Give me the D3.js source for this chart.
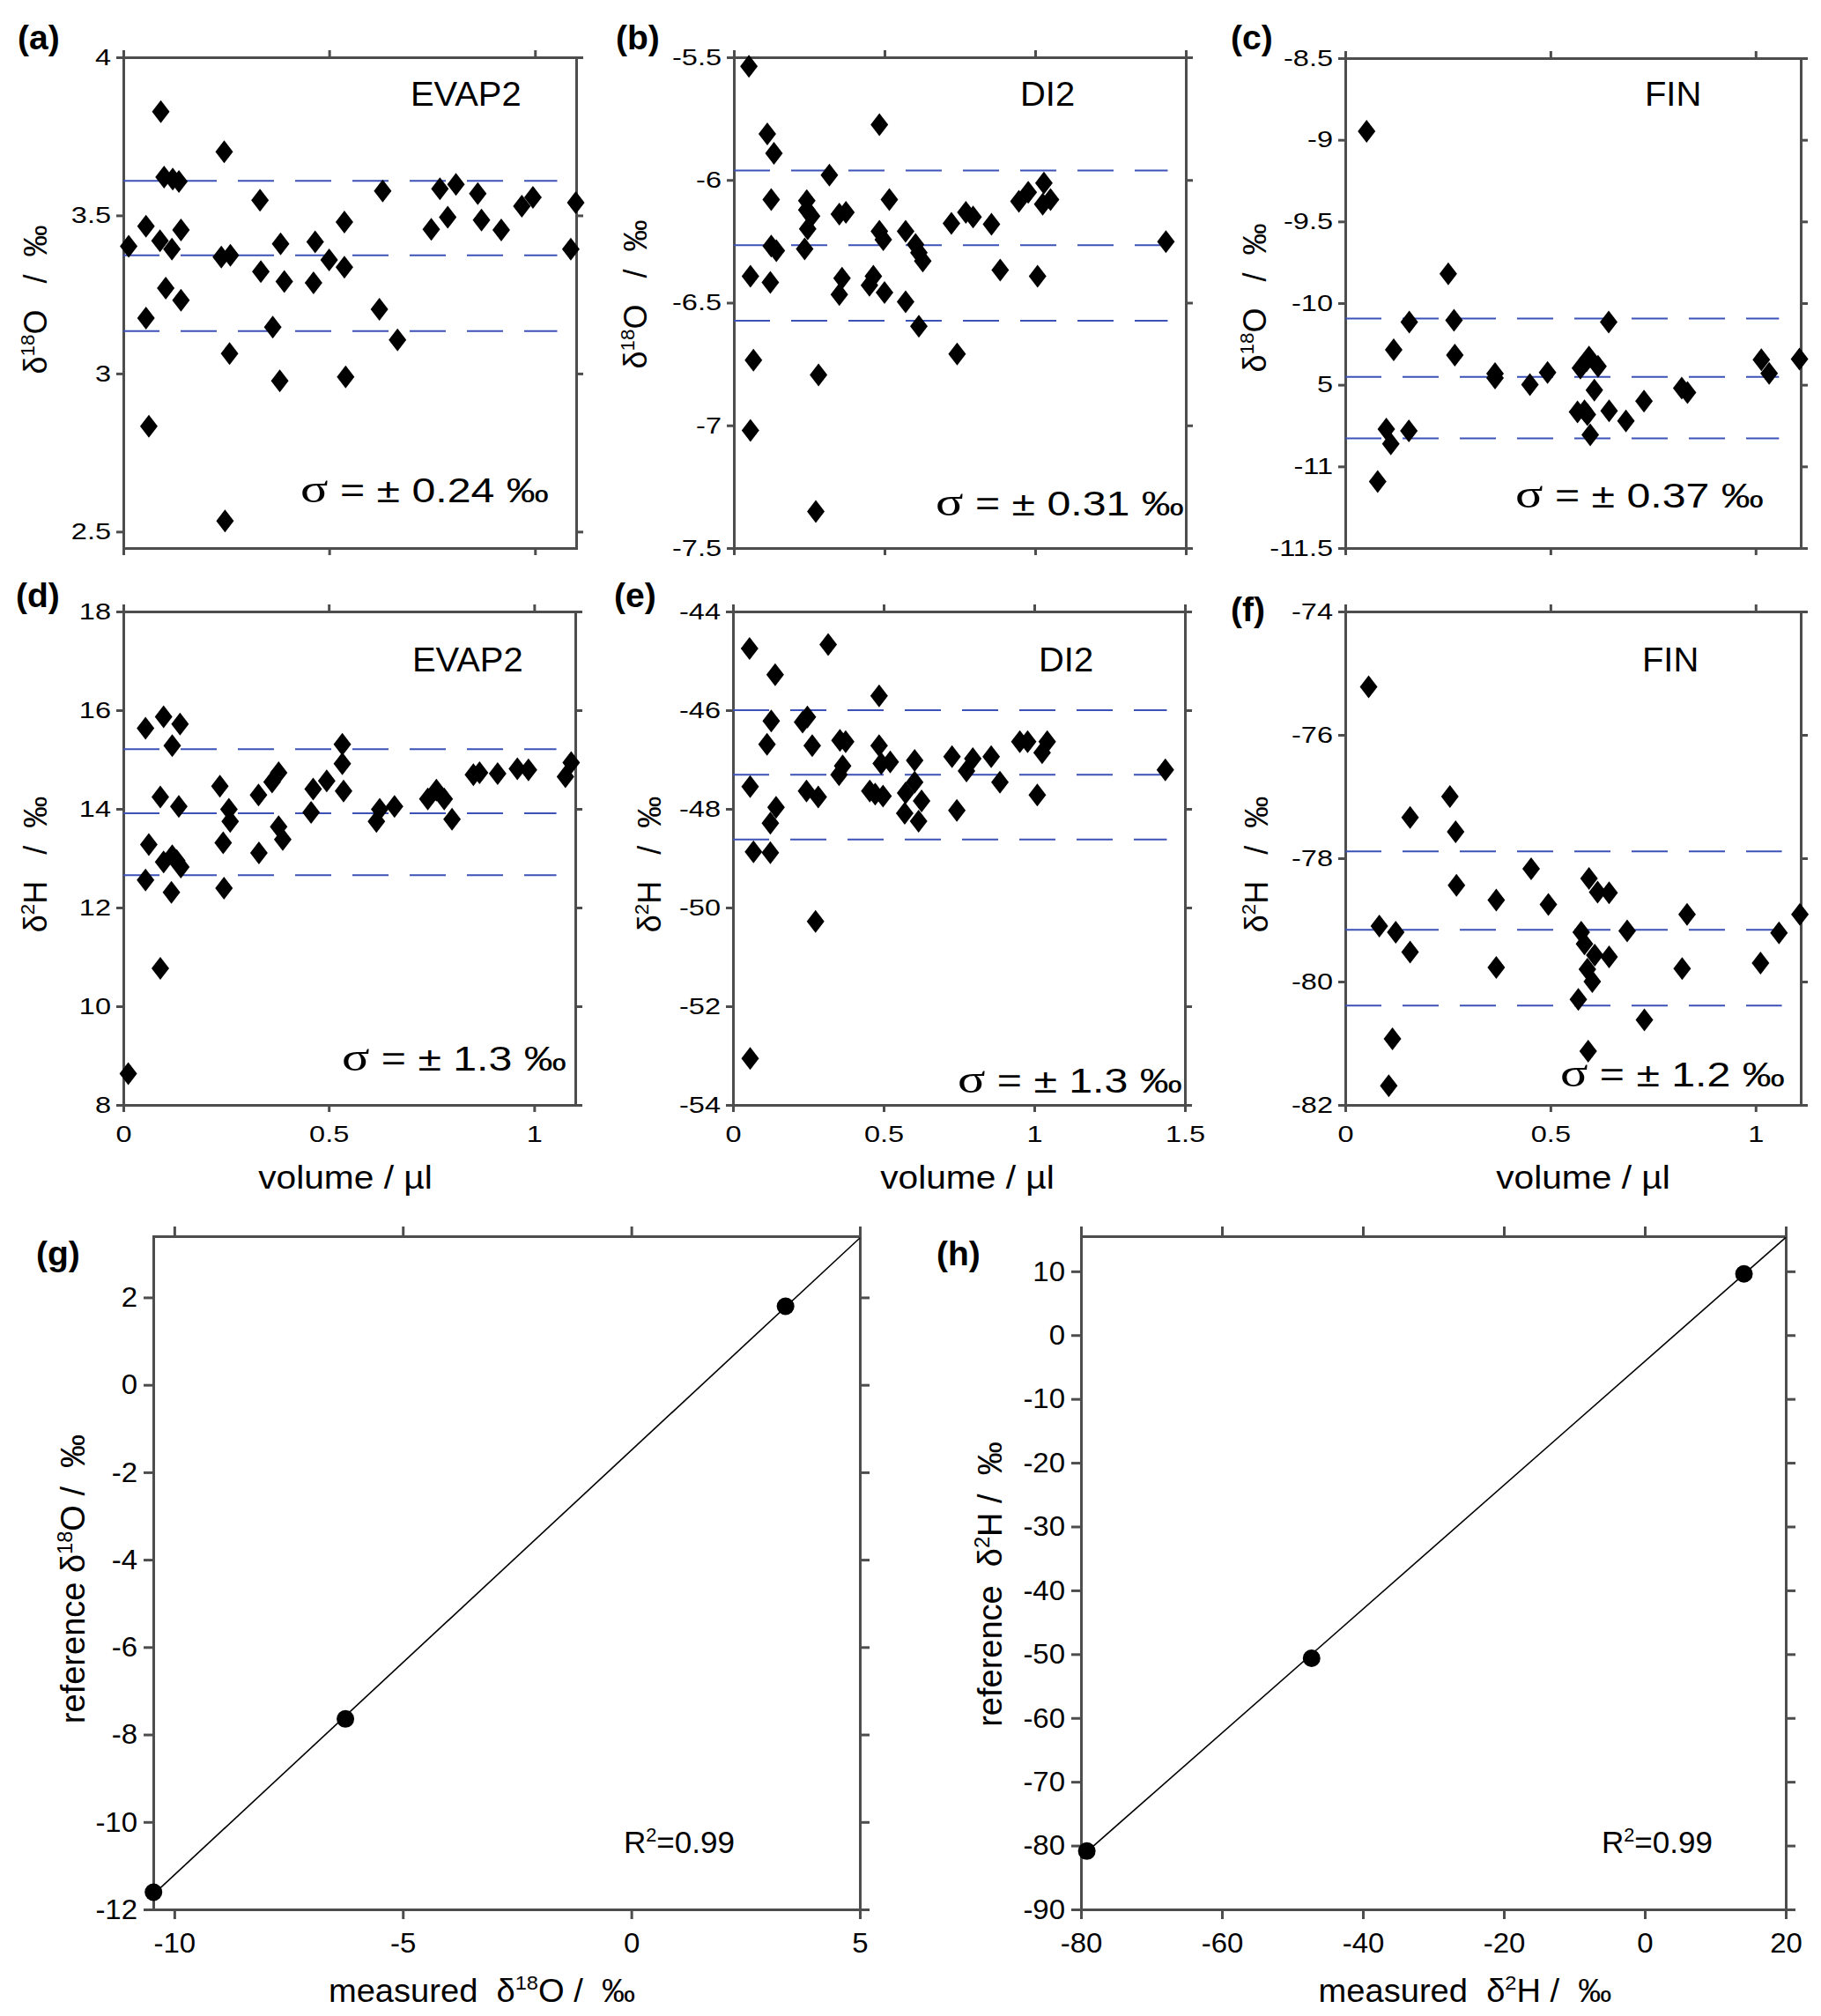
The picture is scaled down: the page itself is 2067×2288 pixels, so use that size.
<!DOCTYPE html>
<html>
<head>
<meta charset="utf-8">
<script src="https://cdn.jsdelivr.net/npm/d3@7"></script>
<style>
  body { margin: 0; background: #fff; }
  text { font-family: 'Liberation Sans', Arial, Helvetica, sans-serif; fill: #000; white-space: pre; }
</style>
</head>
<body>
<script>
// ---- data: [volume (µl), delta value (‰)] ----
const evap2O18 = [[0.013,3.402],[0.055,3.466],[0.055,3.175],[0.062,2.833],[0.091,3.828],[0.089,3.42],[0.099,3.621],[0.103,3.27],
  [0.118,3.393],[0.12,3.615],[0.135,3.607],[0.14,3.454],[0.14,3.232],[0.245,3.701],[0.238,3.368],[0.26,3.374],[0.258,3.063],
  [0.247,2.534],[0.332,3.548],[0.334,3.322],[0.363,3.147],[0.382,3.41],[0.391,3.291],[0.38,2.977],[0.466,3.416],[0.462,3.287],
  [0.5,3.359],[0.537,3.479],[0.537,3.336],[0.54,2.989],[0.622,3.203],[0.63,3.577],[0.666,3.106],[0.748,3.456],[0.769,3.584],
  [0.788,3.494],[0.808,3.598],[0.861,3.569],[0.87,3.485],[0.918,3.454],[0.968,3.529],[0.995,3.557],[1.087,3.393],[1.099,3.54]];
const di2O18 = [[0.05,-5.537],[0.055,-6.392],[0.065,-6.734],[0.055,-7.021],[0.111,-5.812],[0.133,-5.891],[0.124,-6.08],[0.124,-6.269],
  [0.141,-6.288],[0.121,-6.417],[0.242,-6.084],[0.242,-6.122],[0.258,-6.147],[0.245,-6.199],[0.235,-6.281],[0.317,-5.98],
  [0.281,-6.794],[0.272,-7.351],[0.35,-6.139],[0.372,-6.132],[0.359,-6.4],[0.35,-6.467],[0.483,-5.775],[0.516,-6.08],
  [0.483,-6.209],[0.496,-6.243],[0.463,-6.392],[0.45,-6.429],[0.5,-6.459],[0.57,-6.209],[0.603,-6.263],[0.614,-6.296],
  [0.627,-6.33],[0.57,-6.496],[0.614,-6.596],[0.722,-6.177],[0.77,-6.132],[0.794,-6.151],[0.855,-6.18],[0.884,-6.367],
  [0.741,-6.709],[0.946,-6.087],[0.977,-6.05],[1.029,-6.013],[1.025,-6.099],[1.051,-6.08],[1.008,-6.392],[1.434,-6.251]];
const finO18 = [[0.052,-8.948],[0.079,-11.092],[0.1,-10.772],[0.111,-10.862],[0.118,-10.286],[0.155,-10.783],[0.156,-10.116],
  [0.251,-9.821],[0.265,-10.105],[0.267,-10.318],[0.365,-10.432],[0.365,-10.459],[0.45,-10.499],[0.493,-10.425],[0.566,-10.667],
  [0.583,-10.66],[0.59,-10.683],[0.573,-10.398],[0.588,-10.354],[0.594,-10.331],[0.616,-10.387],[0.607,-10.533],[0.597,-10.806],
  [0.642,-10.116],[0.643,-10.66],[0.684,-10.721],[0.728,-10.6],[0.82,-10.521],[0.834,-10.548],[1.014,-10.347],[1.033,-10.43],
  [1.107,-10.342]];
const evap2H2 = [[0.012,8.632],[0.054,15.636],[0.062,13.279],[0.054,12.557],[0.098,15.865],[0.09,14.24],[0.09,10.767],[0.119,15.282],
  [0.138,15.718],[0.135,14.051],[0.098,12.926],[0.119,13.049],[0.13,12.951],[0.14,12.82],[0.117,12.31],[0.235,14.461],
  [0.257,13.993],[0.26,13.747],[0.243,13.312],[0.245,12.392],[0.329,14.281],[0.33,13.107],[0.362,14.544],[0.378,14.732],
  [0.378,13.64],[0.388,13.378],[0.462,14.404],[0.457,13.928],[0.495,14.568],[0.533,15.307],[0.533,14.913],[0.536,14.363],
  [0.616,13.747],[0.624,13.993],[0.66,14.051],[0.741,14.199],[0.762,14.379],[0.781,14.199],[0.8,13.788],[0.852,14.691],
  [0.867,14.732],[0.911,14.716],[0.959,14.814],[0.986,14.79],[1.076,14.65],[1.09,14.937]];
const di2H2 = [[0.055,-44.75],[0.316,-44.67],[0.14,-45.28],[0.485,-45.71],[0.127,-46.22],[0.231,-46.24],[0.247,-46.14],[0.113,-46.69],
  [0.263,-46.72],[0.355,-46.61],[0.374,-46.64],[0.485,-46.72],[0.364,-47.13],[0.352,-47.31],[0.492,-47.08],[0.522,-47.05],
  [0.057,-47.55],[0.244,-47.64],[0.283,-47.76],[0.454,-47.64],[0.472,-47.7],[0.498,-47.74],[0.573,-47.68],[0.603,-47.02],
  [0.603,-47.46],[0.626,-47.84],[0.57,-48.09],[0.616,-48.25],[0.727,-46.94],[0.775,-47.23],[0.796,-46.98],[0.857,-46.94],
  [0.886,-47.46],[0.743,-48.03],[0.952,-46.64],[0.978,-46.64],[1.026,-46.86],[1.043,-46.64],[1.01,-47.72],[1.435,-47.21],
  [0.143,-47.97],[0.124,-48.29],[0.068,-48.87],[0.124,-48.89],[0.274,-50.28],[0.057,-53.06]];
const finH2 = [[0.057,-75.22],[0.083,-79.1],[0.123,-79.2],[0.158,-79.52],[0.158,-77.34],[0.115,-80.93],[0.106,-81.69],[0.255,-77.0],
  [0.269,-77.57],[0.271,-78.44],[0.368,-78.68],[0.368,-79.77],[0.453,-78.17],[0.495,-78.75],[0.594,-78.33],[0.615,-78.55],
  [0.643,-78.56],[0.575,-79.2],[0.583,-79.39],[0.608,-79.57],[0.643,-79.6],[0.59,-79.8],[0.602,-80.0],[0.568,-80.29],
  [0.592,-81.13],[0.687,-79.18],[0.729,-80.62],[0.833,-78.91],[0.821,-79.79],[1.012,-79.7],[1.057,-79.21],[1.108,-78.91]];

// mean and +/- sigma levels (dashed lines)
const evap2O18Bands = [3.609, 3.374, 3.134];
const di2O18Bands = [-5.961, -6.266, -6.574];
const finO18Bands = [-10.094, -10.452, -10.828];
const evap2H2Bands = [15.209, 13.911, 12.655];
const di2H2Bands = [-46.0, -47.31, -48.62];
const finH2Bands = [-77.89, -79.16, -80.39];

// calibration: [measured, reference]
const calibO18 = [[-10.456,-11.607],[-6.256,-7.643],[3.374,1.798]];
const calibH2 = [[-79.17,-80.86],[-47.28,-50.65],[14.07,9.59]];
const calibO18Fit = [[-10.46,-11.66],[5,3.36]];
const calibH2Fit = [[-79.2,-81.0],[20,15.3]];

// tick values and labels
const volTicks = [0, 0.5, 1];
const volTicksWide = [0, 0.5, 1, 1.5];
const evap2O18Ticks = [2.5, 3, 3.5, 4];
const di2O18Ticks = [-7.5, -7, -6.5, -6, -5.5];
const finO18Ticks = [-11.5, -11, -10.5, -10, -9.5, -9, -8.5];
const finO18TickLabels = ["-11.5", "-11", "5", "-10", "-9.5", "-9", "-8.5"];
const evap2H2Ticks = [8, 10, 12, 14, 16, 18];
const di2H2Ticks = [-54, -52, -50, -48, -46, -44];
const finH2Ticks = [-82, -80, -78, -76, -74];
const calibO18XTicks = [-10, -5, 0, 5];
const calibO18YTicks = [-12, -10, -8, -6, -4, -2, 0, 2];
const calibH2XTicks = [-80, -60, -40, -20, 0, 20];
const calibH2YTicks = [-90, -80, -70, -60, -50, -40, -30, -20, -10, 0, 10];

const sans = "'Liberation Sans', Arial, Helvetica, sans-serif";
const serif = "'Liberation Serif', 'Times New Roman', serif";
const axisColor = "#4d4d4d";
const bandColor = "#3d52b8";

const svg = d3.select("body").append("svg")
    .attr("width", 2067)
    .attr("height", 2288)
    .attr("viewBox", [0, 0, 2067, 2288]);

// text with a superscript part: pre + sup + post
function supText(sel, pre, sup, post, fs) {
  sel.append("tspan").text(pre);
  sel.append("tspan").attr("font-size", fs * 0.62).attr("dy", -fs * 0.38).text(sup);
  sel.append("tspan").attr("dy", fs * 0.38).text(post);
}

// text placed at (x, y) and stretched horizontally like the original
function wideText(x, y, sx, fs, anchor) {
  return svg.append("text")
      .attr("transform", `translate(${x},${y}) scale(${sx},1)`)
      .attr("font-size", fs)
      .attr("text-anchor", anchor || "start");
}

function drawFrame(p) {
  const x = d3.scaleLinear().domain(p.xDomain).range([p.left, p.right]);
  const y = d3.scaleLinear().domain(p.yDomain).range([p.bottom, p.top]);
  const g = svg.append("g");
  const tk = p.big ? 11 : 8;
  const fs = p.big ? 32 : 26;
  const sx = p.big ? 1.03 : 1.25;
  const yFmt = p.yLabels ? (d, i) => p.yLabels[i] : d => String(d);

  g.append("g").attr("transform", `translate(${p.left},0)`)
      .call(d3.axisLeft(y).tickValues(p.yTicks).tickFormat(yFmt).tickSize(tk).tickSizeOuter(0).tickPadding(p.big ? 7 : 6));
  g.append("g").attr("transform", `translate(${p.right},0)`)
      .call(d3.axisRight(y).tickValues(p.yTicks).tickFormat("").tickSize(tk).tickSizeOuter(0));
  g.append("g").attr("transform", `translate(0,${p.top})`)
      .call(d3.axisTop(x).tickValues(p.xTicks).tickFormat("").tickSize(tk).tickSizeOuter(0));
  g.append("g").attr("transform", `translate(0,${p.bottom})`)
      .call(d3.axisBottom(x).tickValues(p.xTicks).tickFormat(p.showX ? d => String(d) : "")
        .tickSize(tk).tickSizeOuter(0).tickPadding(p.big ? 15 : 16));

  g.selectAll(".domain, .tick line").attr("stroke", axisColor).attr("stroke-width", 3);
  g.selectAll(".domain").attr("stroke-linecap", "square");
  g.selectAll(".tick text")
      .attr("font-size", fs).attr("font-family", sans).attr("fill", "#000")
      .each(function() {
        const t = d3.select(this);
        t.attr("x", (+t.attr("x") || 0) / sx).attr("transform", `scale(${sx},1)`);
      });

  // panel tag
  svg.append("text").attr("x", p.tag[0]).attr("y", p.tag[1])
      .attr("font-size", 39).attr("font-weight", "bold").text(`(${p.id})`);

  // y title, rotated
  const yt = svg.append("text")
      .attr("transform", `translate(${p.yTitle.x},${p.yTitle.y}) rotate(-90)`)
      .attr("text-anchor", "middle").attr("font-size", p.yTitle.fs);
  supText(yt, p.yTitle.pre, p.yTitle.sup, p.yTitle.post, p.yTitle.fs);

  if (p.xTitle) {
    const xt = wideText(p.xTitle.x, p.xTitle.y, p.xTitle.sx || 1, p.xTitle.fs, "middle");
    if (p.xTitle.sup) supText(xt, p.xTitle.pre, p.xTitle.sup, p.xTitle.post, p.xTitle.fs);
    else xt.text(p.xTitle.pre);
  }
  return { x, y, g };
}

function drawVolumePanel(p) {
  const { x, y, g } = drawFrame(p);

  g.append("g").selectAll("line").data(p.bands).join("line")
      .attr("x1", x(0)).attr("x2", x(p.bandEnd))
      .attr("y1", d => y(d)).attr("y2", d => y(d))
      .attr("stroke", bandColor).attr("stroke-width", 2)
      .attr("stroke-dasharray", "41,24");

  g.append("g").selectAll("path").data(p.pts).join("path")
      .attr("d", "M0,-13L10,0L0,13L-10,0Z")
      .attr("transform", d => `translate(${x(d[0])},${y(d[1])})`)
      .attr("fill", "#000");

  wideText(p.name[1], p.name[2], 1.05, 38).text(p.name[0]);

  const s = wideText(p.sigma[1], p.sigma[2], 1.27, 38, "end");
  s.append("tspan").attr("font-family", serif).attr("font-size", 46).text("σ");
  s.append("tspan").text(` = ± ${p.sigma[0]} ‰`);
}

function drawCalibPanel(p) {
  const { x, y, g } = drawFrame(p);
  const line = d3.line().x(d => x(d[0])).y(d => y(d[1]));
  g.append("path").datum(p.fit).attr("d", line)
      .attr("fill", "none").attr("stroke", "#000").attr("stroke-width", 1.6);
  g.append("g").selectAll("circle").data(p.pts).join("circle")
      .attr("cx", d => x(d[0])).attr("cy", d => y(d[1])).attr("r", 10)
      .attr("fill", "#000");
  const r = svg.append("text").attr("x", p.r2[0]).attr("y", p.r2[1]).attr("font-size", 35);
  supText(r, "R", "2", "=0.99", 35);
}

const o18Title = (x, y) => ({ pre: "δ", sup: "18", post: "O   /  ‰", x, y, fs: 36 });
const h2Title = (x, y) => ({ pre: "δ", sup: "2", post: "H   /  ‰", x, y, fs: 36 });
const volTitle = x => ({ pre: "volume / µl", x, y: 1349, fs: 37, sx: 1.1 });

drawVolumePanel({ id: "a", left: 140, right: 654, top: 65, bottom: 622,
  xDomain: [0, 1.1], yDomain: [2.448, 4], xTicks: volTicks, yTicks: evap2O18Ticks,
  pts: evap2O18, bands: evap2O18Bands, bandEnd: 1.054, tag: [20, 56],
  name: ["EVAP2", 466, 120], sigma: ["0.24", 623, 570], yTitle: o18Title(53, 340) });
drawVolumePanel({ id: "b", left: 833, right: 1346, top: 65, bottom: 622,
  xDomain: [0, 1.5], yDomain: [-7.5, -5.5], xTicks: volTicksWide, yTicks: di2O18Ticks,
  pts: di2O18, bands: di2O18Bands, bandEnd: 1.44, tag: [699, 56],
  name: ["DI2", 1158, 120], sigma: ["0.31", 1344, 585], yTitle: o18Title(734, 334) });
drawVolumePanel({ id: "c", left: 1527, right: 2044, top: 66, bottom: 622,
  xDomain: [0, 1.11], yDomain: [-11.5, -8.5], xTicks: volTicks, yTicks: finO18Ticks, yLabels: finO18TickLabels,
  pts: finO18, bands: finO18Bands, bandEnd: 1.057, tag: [1397, 56],
  name: ["FIN", 1867, 120], sigma: ["0.37", 2002, 576], yTitle: o18Title(1437, 338) });

drawVolumePanel({ id: "d", left: 140, right: 653, top: 694, bottom: 1254,
  xDomain: [0, 1.1], yDomain: [8, 18], xTicks: volTicks, yTicks: evap2H2Ticks, showX: true,
  pts: evap2H2, bands: evap2H2Bands, bandEnd: 1.054, tag: [18, 689],
  name: ["EVAP2", 468, 762], sigma: ["1.3", 643, 1215], yTitle: h2Title(53, 981), xTitle: volTitle(392) });
drawVolumePanel({ id: "e", left: 832, right: 1345, top: 694, bottom: 1254,
  xDomain: [0, 1.5], yDomain: [-54, -44], xTicks: volTicksWide, yTicks: di2H2Ticks, showX: true,
  pts: di2H2, bands: di2H2Bands, bandEnd: 1.44, tag: [697, 689],
  name: ["DI2", 1179, 762], sigma: ["1.3", 1342, 1240], yTitle: h2Title(750, 981), xTitle: volTitle(1098) });
drawVolumePanel({ id: "f", left: 1527, right: 2044, top: 694, bottom: 1254,
  xDomain: [0, 1.11], yDomain: [-82, -74], xTicks: volTicks, yTicks: finH2Ticks, showX: true,
  pts: finH2, bands: finH2Bands, bandEnd: 1.064, tag: [1397, 705],
  name: ["FIN", 1864, 762], sigma: ["1.2", 2026, 1233], yTitle: h2Title(1439, 981), xTitle: volTitle(1797) });

drawCalibPanel({ id: "g", big: true, left: 174, right: 976, top: 1403, bottom: 2167,
  xDomain: [-10.46, 5], yDomain: [-12, 3.4], xTicks: calibO18XTicks, yTicks: calibO18YTicks, showX: true,
  pts: calibO18, fit: calibO18Fit, tag: [41, 1436], r2: [708, 2103],
  yTitle: { pre: "reference δ", sup: "18", post: "O /  ‰", x: 96, y: 1792, fs: 38 },
  xTitle: { pre: "measured  δ", sup: "18", post: "O /  ‰", x: 547, y: 2272, fs: 37, sx: 1.03 } });
drawCalibPanel({ id: "h", big: true, left: 1227, right: 2027, top: 1403, bottom: 2167,
  xDomain: [-80, 20], yDomain: [-90, 15.5], xTicks: calibH2XTicks, yTicks: calibH2YTicks, showX: true,
  pts: calibH2, fit: calibH2Fit, tag: [1063, 1436], r2: [1818, 2103],
  yTitle: { pre: "reference  δ", sup: "2", post: "H /  ‰", x: 1137, y: 1798, fs: 38 },
  xTitle: { pre: "measured  δ", sup: "2", post: "H /  ‰", x: 1663, y: 2272, fs: 37, sx: 1.03 } });
</script>
</body>
</html>
